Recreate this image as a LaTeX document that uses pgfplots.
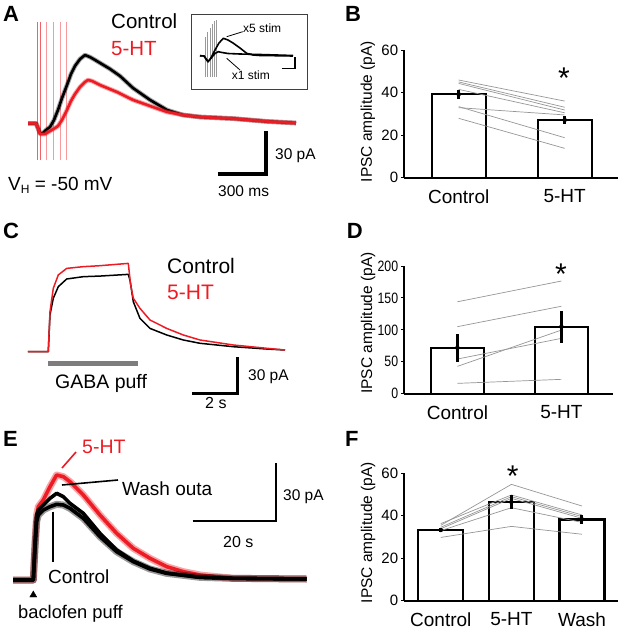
\documentclass[border=0pt]{standalone}
\usepackage{pgfplots}
\usepackage{pgfplotstable}
\pgfplotsset{compat=1.18}
\usepackage{fontspec}
\setmainfont{Liberation Sans}
\definecolor{myred}{RGB}{237,28,36}
\definecolor{pairgray}{RGB}{150,150,150}
\definecolor{puffgray}{RGB}{125,125,125}
\newcommand{\fs}[1]{\fontsize{#1}{#1}\selectfont}
\pgfplotsset{
  trace/.style={scale only axis, hide axis, clip=false},
  barax/.style={
    scale only axis, clip=false,
    axis x line=bottom, axis y line=left,
    axis line style={-, line width=1.8pt},
    xtick style={draw=none},
    ytick style={line width=0.9pt, black},
    tick align=outside,
    major tick length=3pt,
    /pgf/number format/assume math mode=true,
    yticklabel style={font=\fs{15}, inner sep=0pt, xshift=-3pt},
    xticklabel style={font=\fs{19}, inner sep=0pt, yshift=-8.8pt},
    ylabel={IPSC amplitude (pA)},
  },
}
% Panel A traces (t in ms, I in pA)
\pgfplotstableread{
t I
0 0
50 0
62.5 -3.3
75 -6.8
93.75 -6.8
112.5 -4.7
137.5 -2.6
162.5 2.3
187.5 9.3
212.5 17.6
243.75 26.7
268.75 34.4
293.75 40.0
325 44.8
356.25 47.6
387.5 46.2
418.75 44.2
450 42.1
512.5 37.9
575 33.0
656.25 24.6
762.5 16.3
868.75 9.3
968.75 5.8
1075 4.4
1281.25 3.3
1493.75 1.3
1675 0.2
}\Ablack
\pgfplotstableread{
t I
0 0
50 0
62.5 -3.3
75 -7.5
106.25 -7.5
137.5 -5.4
168.75 -3.3
187.5 -1.9
212.5 2.3
243.75 9.3
268.75 15.6
293.75 20.4
325 25.3
356.25 28.8
375 30.2
400 29.5
450 26.7
556.25 21.8
656.25 16.3
762.5 12.1
868.75 7.9
968.75 5.8
1075 4.4
1281.25 3.3
1493.75 1.3
1675 0.2
}\Ared
% Panel E traces (t in s, I in pA)
\pgfplotstableread{
t I
0 0
4.9 0
5.3 19.93
5.7 33.8
6.1 38.13
7.31 41.6
8.92 48.53
10.52 54.6
12.13 53.73
13.73 51.13
16.95 44.2
20.96 33.8
24.98 24.27
28.99 16.47
33.01 11.27
37.03 6.93
41.04 4.33
45.06 2.6
53.09 0.87
70.76 0.52
}\Ered
\pgfplotstableread{
t I
0 0
4.9 0
5.3 16.47
5.7 30.33
6.1 33.8
7.31 36.4
8.92 38.13
10.52 39.35
12.13 39.0
13.73 37.27
16.95 32.07
20.96 22.53
24.98 14.73
28.99 9.53
33.01 5.72
37.03 3.47
45.06 1.39
53.09 0.87
70.76 0.52
}\Econtrol
\pgfplotstableread{
t I
0 0
4.9 0
5.3 18.2
5.7 33.8
6.1 36.4
7.31 39.0
8.92 42.47
10.52 45.07
12.13 43.33
13.73 39.87
16.95 34.67
20.96 24.27
24.98 15.6
28.99 9.88
33.01 6.07
37.03 3.64
45.06 1.39
53.09 0.87
70.76 0.52
}\Ewash
\begin{document}
\begin{tikzpicture}
\useasboundingbox (0pt,0pt) rectangle (625pt,-633pt);

% ---------------- Panel A ----------------
\begin{axis}[trace, at={(0pt,0pt)}, anchor=north west, width=340pt, height=200pt,
  xmin=-175, xmax=1950, ymin=-53.5, ymax=86.0]
\addplot[myred!70, line width=1pt] coordinates {(58,70.9) (58,-25.6)};
\addplot[myred!70, line width=1pt] coordinates {(79,70.9) (79,-25.6)};
\addplot[myred!45, line width=0.9pt] coordinates {(116.9,70.9) (116.9,-25.6)};
\addplot[myred!45, line width=0.9pt] coordinates {(158.1,70.9) (158.1,-25.6)};
\addplot[myred!45, line width=0.9pt] coordinates {(200,70.9) (200,-25.6)};
\addplot[myred!45, line width=0.9pt] coordinates {(241.9,70.9) (241.9,-25.6)};
\addplot[black, opacity=0.35, line width=4.6pt, line join=round] table[x=t,y=I] {\Ablack};
\addplot[black, line width=2.6pt, line join=round] table[x=t,y=I] {\Ablack};
\addplot[myred, opacity=0.4, line width=4.6pt, line join=round] table[x=t,y=I] {\Ared};
\addplot[myred, line width=2.6pt, line join=round] table[x=t,y=I] {\Ared};
\addplot[black, line width=3.8pt, line join=miter] coordinates {(1187.5,-35.4) (1487.5,-35.4) (1487.5,-5.4)};
\end{axis}

% inset
\begin{axis}[scale only axis, clip=false, at={(191pt,-89pt)}, anchor=south west,
  width=116.7pt, height=75pt, xmin=0, xmax=116.7, ymin=0, ymax=75,
  xtick=\empty, ytick=\empty, axis line style={black!75, line width=1pt}]
\addplot[gray!80, line width=0.7pt] coordinates {(14,12.3) (14,52.3)};
\addplot[gray!80, line width=0.7pt] coordinates {(16.3,12.3) (16.3,57)};
\addplot[gray!80, line width=0.7pt] coordinates {(19,12.3) (19,61.3)};
\addplot[gray!80, line width=0.7pt] coordinates {(21.3,12.3) (21.3,65)};
\addplot[gray!80, line width=0.7pt] coordinates {(23.3,12.3) (23.3,68)};
\addplot[gray!80, line width=0.7pt] coordinates {(25,12.3) (25,69)};
\addplot[black, line width=1.6pt, line join=round] coordinates {
(9,33.3) (13,33) (17,27.3) (20,31) (24,39) (28,46) (32.3,50.7) (37,49) (42,46)
(49,41) (55.7,35.7) (62,34) (69,33.5) (84,33.3) (102,33)};
\addplot[black, line width=1.6pt, line join=round] coordinates {
(9,33.3) (13,33) (17,27.3) (21,32) (24,35.5) (27.3,37.3) (31,36.5) (37,35.5)
(49,35) (69,34.5) (102,33.5)};
\addplot[black, line width=1.3pt] coordinates {(90.7,20.7) (104,20.7) (104,32.3)};
\draw[black, line width=0.8pt] (axis cs:51.7,57.3) -- (axis cs:35.7,52.3);
\draw[black, line width=0.8pt] (axis cs:49,19) -- (axis cs:35.7,30.7);
\end{axis}
\node[anchor=base west, inner sep=0pt] at (243pt,-32pt) {\fs{12}x5 stim};
\node[anchor=base west, inner sep=0pt] at (231.7pt,-79pt) {\fs{12}x1 stim};
\node[anchor=base west, inner sep=0pt] at (111pt,-28.3pt) {\fs{20.5}Control};
\node[anchor=base west, inner sep=0pt, text=myred] at (111pt,-55pt) {\fs{20.5}5-HT};
\node[anchor=base west, inner sep=0pt] at (8pt,-190pt) {\fs{19}V\raisebox{-0.35ex}{\fs{12}H} = -50 mV};
\node[anchor=base west, inner sep=0pt] at (275pt,-159pt) {\fs{15.5}30 pA};
\node[anchor=base west, inner sep=0pt] at (218pt,-196pt) {\fs{15.5}300 ms};

% ---------------- Panel C ----------------
\begin{axis}[trace, at={(0pt,-205pt)}, anchor=north west, width=340pt, height=210pt,
  xmin=-1.233, xmax=13.744, ymin=-51.89, ymax=120.25]
\addplot[puffgray, line width=5pt] coordinates {(0.881,-9.5) (4.846,-9.5)};
\addplot[black, line width=1.5pt, line join=round] coordinates {
(0,0) (0.894,0) (0.969,30.1) (1.115,43.8) (1.335,53.3) (1.705,59.6) (2.436,61.5)
(3.172,62.0) (4.419,63.4) (4.5,58) (4.639,41.0) (4.934,27.3) (5.374,19.1) (6.110,13.7)
(6.841,9.6) (7.577,6.9) (9.044,4.1) (10.515,2.2) (11.322,1.4)};
\addplot[myred, line width=1.5pt, line join=round] coordinates {
(0,0) (0.894,0) (0.969,32.8) (1.115,52.0) (1.335,62.9) (1.705,68.3) (2.436,69.7)
(3.172,70.5) (4.419,72.4) (4.52,55) (4.639,43.8) (4.934,35.5) (5.374,26.0) (6.110,19.1)
(6.841,13.7) (7.577,9.6) (9.044,5.5) (10.515,2.8) (11.322,1.4)};
\addplot[black, line width=3.2pt, line join=miter] coordinates {(7.238,-34.1) (9.238,-34.1) (9.238,-4.1)};
\end{axis}
\node[anchor=base west, inner sep=0pt] at (167pt,-273pt) {\fs{21}Control};
\node[anchor=base west, inner sep=0pt, text=myred] at (167pt,-299pt) {\fs{21}5-HT};
\node[anchor=base west, inner sep=0pt] at (55pt,-388.3pt) {\fs{19.5}GABA puff};
\node[anchor=base west, inner sep=0pt] at (248pt,-380pt) {\fs{15.5}30 pA};
\node[anchor=base west, inner sep=0pt] at (205pt,-408pt) {\fs{16}2 s};

% ---------------- Panel E ----------------
\begin{axis}[trace, at={(0pt,-415pt)}, anchor=north west, width=340pt, height=218pt,
  xmin=-3.133, xmax=78.8, ymin=-27.56, ymax=85.8]
\addplot[myred, opacity=0.4, line width=7pt, line join=round] table[x=t,y=I] {\Ered};
\addplot[myred, line width=3.6pt, line join=round] table[x=t,y=I] {\Ered};
\addplot[black, opacity=0.4, line width=7pt, line join=round] table[x=t,y=I] {\Econtrol};
\addplot[black, line width=3.6pt, line join=round] table[x=t,y=I] {\Econtrol};
\addplot[black, line width=3.6pt, line join=round] table[x=t,y=I] {\Ewash};
\addplot[black, line width=2pt, line join=miter] coordinates {(43.3,30.7) (63.3,30.7) (63.3,60.7)};
\addplot[only marks, mark=triangle*, mark size=4pt, black] coordinates {(4.89,-7.8)};
\end{axis}
\draw[myred, line width=1.6pt] (76pt,-452pt) -- (62pt,-468pt);
\draw[black, line width=1.6pt] (118pt,-480pt) -- (62pt,-485pt);
\draw[black, line width=1.8pt] (53.3pt,-511.7pt) -- (53.3pt,-561.7pt);
\node[anchor=base west, inner sep=0pt, text=myred] at (82pt,-453pt) {\fs{19.5}5-HT};
\node[anchor=base west, inner sep=0pt] at (122pt,-495pt) {\fs{19}Wash outa};
\node[anchor=base west, inner sep=0pt] at (283pt,-500pt) {\fs{15.5}30 pA};
\node[anchor=base west, inner sep=0pt] at (223pt,-547pt) {\fs{16}20 s};
\node[anchor=base west, inner sep=0pt] at (48pt,-583pt) {\fs{19}Control};
\node[anchor=base west, inner sep=0pt] at (18pt,-618pt) {\fs{18.3}baclofen puff};

% ---------------- Panel B ----------------
\begin{axis}[barax, at={(404.3pt,-177.7pt)}, anchor=south west, width=213.7pt, height=127.7pt,
  xmin=-0.513, xmax=1.503, ymin=0, ymax=60, ytick={0,20,40,60},
  xtick={0,1}, xticklabels={Control,5-HT},
  ylabel style={font=\fs{15.5}, at={(axis description cs:-0.17,0.518)}, anchor=center}]
\addplot[ybar, bar width=54pt, fill=white, draw=black, line width=2.3pt] coordinates {(0,39.2) (1,27.1)};
\addplot[pairgray, line width=0.7pt] coordinates {(0,45.9) (1,36.0)};
\addplot[pairgray, line width=0.7pt] coordinates {(0,45.0) (1,33.1)};
\addplot[pairgray, line width=0.7pt] coordinates {(0,44.3) (1,31.8)};
\addplot[pairgray, line width=0.7pt] coordinates {(0,41.5) (1,30.5)};
\addplot[pairgray, line width=0.7pt] coordinates {(0,33.4) (1,18.8)};
\addplot[pairgray, line width=0.7pt] coordinates {(0,32.9) (1,29.5)};
\addplot[pairgray, line width=0.7pt] coordinates {(0,27.9) (1,13.8)};
\addplot[only marks, mark=none, error bars/.cd, y dir=both, y explicit, error mark=none,
  error bar style={line width=3pt, black}] coordinates {(0,39.2) +- (0,2.1) (1,27.1) +- (0,2.0)};
\end{axis}
\node[anchor=base, inner sep=0pt] at (564pt,-88pt) {\fs{30}*};

% ---------------- Panel D ----------------
\begin{axis}[barax, at={(404.3pt,-393.7pt)}, anchor=south west, width=208.4pt, height=127.7pt,
  xmin=-0.511, xmax=1.493, ymin=0, ymax=200, ytick={0,50,100,150,200},
  yticklabel style={xscale=0.82},
  xtick={0,1}, xticklabels={Control,5-HT},
  ylabel style={font=\fs{15.5}, at={(axis description cs:-0.174,0.553)}, anchor=center}]
\addplot[ybar, bar width=52.7pt, fill=white, draw=black, line width=2.3pt] coordinates {(0,72) (1,105)};
\addplot[pairgray, line width=0.7pt] coordinates {(0,144) (1,176.5)};
\addplot[pairgray, line width=0.7pt] coordinates {(0,105) (1,137)};
\addplot[pairgray, line width=0.7pt] coordinates {(0,54.3) (1,86.7)};
\addplot[pairgray, line width=0.7pt] coordinates {(0,42.8) (1,99.7)};
\addplot[pairgray, line width=0.7pt] coordinates {(0,16.2) (1,22.5)};
\addplot[only marks, mark=none, error bars/.cd, y dir=both, y explicit, error mark=none,
  error bar style={line width=3pt, black}] coordinates {(0,72) +- (0,22) (1,105) +- (0,25)};
\end{axis}
\node[anchor=base, inner sep=0pt] at (561pt,-284.5pt) {\fs{30}*};

% ---------------- Panel F ----------------
\begin{axis}[barax, at={(404.3pt,-600.7pt)}, anchor=south west, width=213.4pt, height=127.4pt,
  xmin=-0.517, xmax=2.506, ymin=0, ymax=60, ytick={0,20,40,60},
  xtick={0,1,2}, xticklabels={Control,5-HT,Wash},
  ylabel style={font=\fs{15.5}, at={(axis description cs:-0.17,0.535)}, anchor=center}]
\addplot[ybar, bar width=45pt, fill=white, draw=black, line width=2.3pt] coordinates {(0,33.3) (1,46.5) (2,38.3)};
\addplot[pairgray, line width=0.7pt] coordinates {(0,35.5) (1,54.8) (2,44.6)};
\addplot[pairgray, line width=0.7pt] coordinates {(0,36.3) (1,49.8) (2,40.4)};
\addplot[pairgray, line width=0.7pt] coordinates {(0,34.6) (1,49.0) (2,39.6)};
\addplot[pairgray, line width=0.7pt] coordinates {(0,33.9) (1,48.2) (2,38.8)};
\addplot[pairgray, line width=0.7pt] coordinates {(0,33.0) (1,43.8) (2,36.9)};
\addplot[pairgray, line width=0.7pt] coordinates {(0,29.8) (1,35.0) (2,31.3)};
\addplot[only marks, mark=none, error bars/.cd, y dir=both, y explicit, error mark=none,
  error bar style={line width=3pt, black}] coordinates {(0,33.3) +- (0,0.9) (1,46.5) +- (0,3.3) (2,38.3) +- (0,2.0)};
\end{axis}
\node[anchor=base, inner sep=0pt] at (512.7pt,-486.5pt) {\fs{30}*};

% panel letters
\node[anchor=base west, inner sep=0pt] at (3pt,-21.7pt) {\fs{22}\bfseries A};
\node[anchor=base west, inner sep=0pt] at (345pt,-21.7pt) {\fs{22}\bfseries B};
\node[anchor=base west, inner sep=0pt] at (3pt,-238pt) {\fs{22}\bfseries C};
\node[anchor=base west, inner sep=0pt] at (346.7pt,-238pt) {\fs{22}\bfseries D};
\node[anchor=base west, inner sep=0pt] at (3pt,-446.7pt) {\fs{22}\bfseries E};
\node[anchor=base west, inner sep=0pt] at (345pt,-446.7pt) {\fs{22}\bfseries F};
\end{tikzpicture}
\end{document}
